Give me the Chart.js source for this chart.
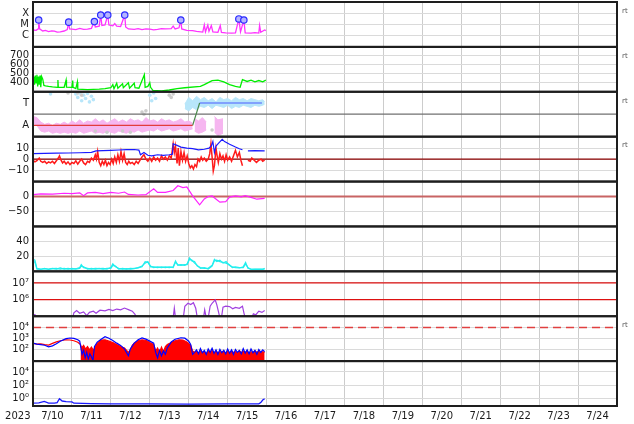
<!DOCTYPE html>
<html>
<head>
<meta charset="utf-8">
<script src="https://cdn.jsdelivr.net/npm/chart.js@4"></script>
<style>
  html, body { margin: 0; padding: 0; background: #fff; }
</style>
</head>
<body>
<canvas id="myChart" width="634" height="424"></canvas>
<script>
// x values are days since 7/10 00:00
const dayLabels = ["7/10", "7/11", "7/12", "7/13", "7/14", "7/15", "7/16", "7/17", "7/18", "7/19", "7/20", "7/21", "7/22", "7/23", "7/24"];
const yearLabel = "2023";
const refSpan = [0, 15];

// panel 1: x-ray flux + flares
const xrayT = [0, 0.08, 0.13, 0.146, 0.17, 0.25, 0.32, 0.40, 0.48, 0.55, 0.62, 0.70, 0.80,
  0.88, 0.917, 0.94, 1.00, 1.10, 1.20, 1.30, 1.40, 1.50, 1.577,
  1.60, 1.70, 1.74, 1.77, 1.85, 1.92, 1.95, 2.05, 2.10, 2.15,
  2.25, 2.356, 2.38, 2.45, 2.60, 2.70, 2.80, 2.90, 3.00, 3.10, 3.20, 3.30, 3.40, 3.55,
  3.60, 3.65, 3.75, 3.796, 3.82, 3.95, 4.10, 4.20, 4.36, 4.40, 4.43,
  4.49, 4.52, 4.58, 4.62, 4.75, 4.81, 4.84, 4.95, 5.10, 5.20,
  5.287, 5.33, 5.416, 5.45, 5.60, 5.70, 5.80, 5.82, 5.85, 5.95, 5.98];
const xrayV = [3.2e-6, 3.0e-6, 4e-6, 2.5e-5, 4e-6, 2.6e-6, 2.9e-6, 2.3e-6, 2.7e-6, 2.5e-6, 2.1e-6, 2.2e-6, 2.6e-6,
  3.5e-6, 1.6e-5, 4e-6, 3.8e-6, 3.5e-6, 4.5e-6, 3.6e-6, 3.8e-6, 4.5e-6, 1.8e-5,
  6e-6, 7e-6, 6.9e-5, 8e-6, 9e-6, 6.9e-5, 9e-6, 7.5e-6, 1.2e-5, 7e-6,
  6.5e-6, 6.9e-5, 6e-6, 4e-6, 3.7e-6, 4.2e-6, 3.5e-6, 4e-6, 3.8e-6, 3.3e-6, 3.6e-6, 4.3e-6, 4e-6, 4.2e-6,
  7e-6, 4e-6, 5e-6, 2.5e-5, 4e-6, 3e-6, 2.8e-6, 2.4e-6, 2.1e-6, 9e-6, 2.2e-6,
  9e-6, 2.5e-6, 8e-6, 2.2e-6, 2e-6, 8e-6, 2e-6, 1.8e-6, 1.7e-6, 1.8e-6,
  3.1e-5, 2.2e-6, 2.5e-5, 1.8e-6, 1.7e-6, 1.9e-6, 1.7e-6, 8e-6, 2e-6, 3.2e-6, 2.8e-6];
const flareT = [0.146, 0.917, 1.577, 1.74, 1.92, 2.356, 3.796, 5.287, 5.416];
const flareV = [2.5e-5, 1.6e-5, 1.8e-5, 6.9e-5, 6.9e-5, 6.9e-5, 2.5e-5, 3.1e-5, 2.5e-5];
const xrayTicks = [1e-6, 1e-5, 1e-4];
const xrayLabels = ["C", "M", "X"];

// panel 2: solar wind speed
const speedT = [0, 0.02, 0.04, 0.06, 0.08, 0.10, 0.12, 0.14, 0.16, 0.18,
  0.20, 0.22, 0.25, 0.28, 0.32, 0.40, 0.50, 0.63, 0.64, 0.65,
  0.80, 0.85, 0.86, 1.00, 1.02, 1.03, 1.10, 1.14, 1.15, 1.40,
  1.70, 1.85, 2.00, 2.05, 2.08, 2.15, 2.18, 2.30, 2.32, 2.45,
  2.48, 2.60, 2.62, 2.72, 2.86, 2.88, 2.95, 3.00, 3.02, 3.08,
  3.30, 3.50, 3.70, 3.90, 4.30, 4.40, 4.60, 4.75, 4.90, 5.05,
  5.20, 5.32, 5.38, 5.50, 5.60, 5.70, 5.80, 5.90, 5.98];
const speedV = [420, 470, 380, 480, 400, 490, 360, 470, 380, 480,
  350, 470, 440, 370, 365, 360, 355, 350, 430, 350,
  350, 430, 352, 350, 425, 350, 335, 410, 330, 325,
  330, 335, 345, 380, 335, 395, 340, 390, 345, 400,
  340, 395, 345, 340, 490, 350, 360, 400, 350, 315,
  310, 320, 335, 345, 360, 380, 425, 430, 410, 380,
  360, 350, 435, 415, 430, 410, 425, 410, 430];
const speedTicks = [400, 500, 600, 700];

// panel 3: sector (Toward / Away)
const sectorAwayT = [0, 4.10];
const sectorAwayV = [-1, -1];
const sectorTurnT = [4.10, 4.28];
const sectorTurnV = [-1, 1];
const sectorTowardT = [4.28, 5.88];
const sectorTowardV = [1, 1];
const sectorMid = 0;
const pinkT = [0, 0.1, 0.2, 0.3, 0.4, 0.5, 0.6, 0.7, 0.8, 0.9,
  1.0, 1.1, 1.2, 1.3, 1.4, 1.5, 1.6, 1.7, 1.8, 1.9,
  2.0, 2.1, 2.2, 2.3, 2.4, 2.5, 2.6, 2.7, 2.8, 2.9,
  3.0, 3.1, 3.2, 3.3, 3.4, 3.5, 3.6, 3.7, 3.8, 3.9,
  4.0, 4.1, 4.12, 4.15, 4.25, 4.35, 4.45, 4.5, 4.66, 4.75, 4.88];
const pinkTop = [-0.2, -0.3, -0.7, -0.9, -0.8, -1.0, -0.8, -0.9, -0.7, -0.9,
  -0.6, -0.8, -0.5, -0.8, -0.6, -0.7, -0.4, -0.7, -0.5, -0.8,
  -0.6, -0.4, -0.7, -0.5, -0.7, -0.4, -0.6, -0.5, -0.7, -0.3,
  -0.6, -0.5, -0.7, -0.4, -0.6, -0.5, -0.7, -0.6, -0.4, -0.7,
  -0.6, -0.8, null, -0.4, -0.6, -0.3, -0.7, null, -0.2, -0.5, -0.4];
const pinkBottom = [-0.8, -1.0, -1.5, -1.6, -1.5, -1.7, -1.6, -1.7, -1.6, -1.7,
  -1.6, -1.7, -1.5, -1.7, -1.6, -1.5, -1.7, -1.6, -1.7, -1.5,
  -1.6, -1.7, -1.5, -1.6, -1.7, -1.5, -1.6, -1.4, -1.6, -1.5,
  -1.4, -1.5, -1.3, -1.5, -1.4, -1.3, -1.5, -1.4, -1.3, -1.5,
  -1.4, -1.3, null, -1.5, -1.7, -1.6, -1.4, null, -1.6, -1.9, -1.7];
const lbT = [3.9, 4.0, 4.1, 4.2, 4.3, 4.4, 4.5, 4.6, 4.7, 4.8, 4.9,
  5.0, 5.1, 5.2, 5.3, 5.4, 5.5, 5.6, 5.7, 5.8, 5.9, 5.95];
const lbTop = [0.9, 1.5, 1.2, 1.6, 1.3, 1.5, 1.2, 1.4, 1.1, 1.5, 1.3,
  1.4, 1.2, 1.5, 1.3, 1.4, 1.2, 1.4, 1.3, 1.2, 1.3, 1.1];
const lbBottom = [0.5, 0.3, 0.6, 0.4, 0.7, 0.6, 0.8, 0.5, 0.8, 0.7, 0.6,
  0.8, 0.5, 0.7, 0.6, 0.8, 0.7, 0.6, 0.8, 0.7, 0.8, 0.9];
const lbDotT = [0.45, 1.1, 1.15, 1.2, 1.25, 1.3, 1.35, 1.4, 1.45, 1.5, 1.55, 3.0, 3.05, 3.1, 3.15];
const lbDotV = [1.8, 1.8, 1.5, 1.9, 1.2, 1.7, 1.4, 1.85, 1.1, 1.6, 1.3, 1.7, 1.2, 1.9, 1.4];
const greyDotT = [0.9, 1.15, 1.25, 1.6, 1.9, 2.3, 2.5, 2.8, 2.85, 2.9, 3.5, 3.55, 3.6, 4.6];
const greyDotV = [1.9, 1.9, 1.7, -1.5, -1.6, -1.5, -1.6, 0.2, 0.0, 0.3, 1.7, 1.5, 1.8, -1.4];
const sectorTicks = [-1, 1];
const sectorLabels = ["A", "T"];

// panel 4: IMF Bt / Bz
const btT = [0, 0.3, 0.6, 0.9, 1.2, 1.5, 1.62, 1.8, 2.0, 2.2,
  2.4, 2.6, 2.72, 2.76, 2.85, 2.95, 3.05, 3.2, 3.35, 3.5,
  3.58, 3.6, 3.7, 3.8, 3.95, 4.1, 4.25, 4.4, 4.52, 4.58,
  4.62, 4.66, 4.7, 4.78, 4.86, 4.92, 5.05, 5.2, 5.3, 5.38,
  5.39, 5.52, 5.7, 5.95];
const btV = [5, 5.3, 5.4, 5.6, 5.8, 6.2, 7.5, 7.8, 8, 8.3,
  8.6, 8.8, 8.2, 4, 6, 3.5, 3, 4, 3.5, 4,
  4.5, 14, 12.5, 11, 10, 9.5, 8.5, 9, 10, 12,
  16, 6, 12, 15, 18, 16, 13.5, 11, 9.5, 8.5,
  null, 7.5, 7.8, 7.5];
const bzT = [0.00, 0.05, 0.10, 0.16, 0.20, 0.25, 0.30, 0.35, 0.40, 0.45,
  0.50, 0.55, 0.60, 0.65, 0.68, 0.72, 0.76, 0.80, 0.85, 0.90,
  0.95, 1.00, 1.05, 1.10, 1.15, 1.20, 1.25, 1.30, 1.35, 1.40,
  1.45, 1.50, 1.55, 1.60, 1.63, 1.66, 1.70, 1.74, 1.78, 1.82,
  1.86, 1.90, 1.94, 1.98, 2.02, 2.06, 2.10, 2.14, 2.18, 2.22,
  2.26, 2.30, 2.34, 2.38, 2.42, 2.46, 2.50, 2.55, 2.60, 2.65,
  2.70, 2.75, 2.80, 2.85, 2.90, 2.95, 3.00, 3.05, 3.10, 3.15,
  3.20, 3.25, 3.30, 3.35, 3.40, 3.45, 3.50, 3.55, 3.60, 3.63,
  3.66, 3.70, 3.73, 3.76, 3.80, 3.84, 3.88, 3.92, 3.96, 4.00,
  4.04, 4.08, 4.12, 4.16, 4.20, 4.24, 4.28, 4.32, 4.36, 4.40,
  4.45, 4.50, 4.54, 4.57, 4.60, 4.63, 4.66, 4.70, 4.73, 4.76,
  4.80, 4.84, 4.88, 4.92, 4.96, 5.00, 5.05, 5.10, 5.15, 5.20,
  5.25, 5.30, 5.34, 5.38, 5.39, 5.52, 5.58, 5.62, 5.68, 5.74,
  5.80, 5.86, 5.90, 5.95];
const bzV = [-1, -2.5, -1.5, 1, -2, -3, -2, -4, -2.5, -3.5,
  -2, -4, -1.5, 1, 3, -1, -3.5, -2, -4.5, -2.5,
  -5, -3, -4, -1.5, -4.5, -2, 0, -3.5, -5, -2,
  -3, 1, -1, 4, 0, 7, -3, -6, -2, -5,
  -1, -6, -3, -5, 0, -4, 2, -3, 4, -2,
  7, -1, 5, -3, -5, -2, -4, -3, -5, -2,
  -4, -1, 2, 4, 0, -2, 1, -2, 2, -1,
  1, -2, 3, 0, 2, -1, 3, 1, 14, 6,
  12, -4, 10, -6, 7, -1, 6, -2, 3, -4,
  -8, -6, -9, -5, -7, 0, -2, 2, -1, 1,
  -2, 0, 5, 14, 2, -11, -6, 10, 3, -3,
  5, 0, 3, -2, 4, -1, 2, -2, 3, 8,
  2, 6, -1, -6, null, -1, -2, 1, -1, -3,
  -1, 0, -2, -1];
const bZero = 0;
const bTicks = [-10, 0, 10];
const bLabels = ["\u221210", "0", "10"];

// panel 5: Dst
const dstT = [0, 0.2, 0.5, 0.8, 1.0, 1.2, 1.3, 1.4, 1.6, 1.8,
  2.0, 2.2, 2.35, 2.45, 2.7, 2.9, 3.1, 3.2, 3.4, 3.6,
  3.72, 3.85, 3.95, 4.0, 4.1, 4.28, 4.4, 4.5, 4.6, 4.8,
  4.95, 5.05, 5.2, 5.35, 5.45, 5.6, 5.75, 5.95];
const dstV = [6, 9, 8, 11, 10, 12, 3, 12, 14, 10,
  14, 11, 15, 7, 5, 6, 26, 14, 14, 20,
  36, 30, 32, 22, 2, -28, -8, 0, 2, -19,
  -17, -2, 2, -1, 3, -3, -9, -6];
const dstZero = 0;
const dstTicks = [-50, 0];
const dstLabels = ["\u221250", "0"];

// panel 6: density
const densT = [0, 0.05, 0.1, 0.2, 0.3, 0.4, 0.5, 0.6, 0.7, 0.8,
  0.9, 1.0, 1.1, 1.2, 1.24, 1.3, 1.4, 1.5, 1.6, 1.7,
  1.8, 1.9, 2.0, 2.05, 2.12, 2.2, 2.3, 2.4, 2.5, 2.6,
  2.7, 2.8, 2.88, 2.95, 3.02, 3.1, 3.2, 3.3, 3.4, 3.5,
  3.6, 3.66, 3.72, 3.8, 3.9, 3.96, 4.02, 4.08, 4.15, 4.22,
  4.3, 4.4, 4.5, 4.6, 4.66, 4.72, 4.8, 4.88, 4.96, 5.04,
  5.12, 5.2, 5.3, 5.4, 5.46, 5.52, 5.6, 5.7, 5.8, 5.9,
  5.95];
const densA = [16, 15, 4, 3, 3.5, 3, 4, 3, 4.5, 3,
  4, 3, 3.5, 5, 9, 5, 4, 3, 4, 3.5,
  4, 3, 5, 10, 6, 4, 3, 3.5, 3, 4,
  4.5, 6, 13, 12, 7, 5, 6, 5, 6, 5,
  6, 14, 8, 9, 8, 10, 18, 14, 13, 7,
  5, 4, 4, 8, 16, 13, 15, 11, 13, 8,
  6, 5, 4.5, 6, 12, 4, 3, 2.5, 3, 2.5,
  4];
const densB = [14, 12, 3, 2.5, 4, 2.5, 3.5, 4, 3, 4,
  3, 4, 3, 4, 7, 6, 3, 4, 3, 4,
  3, 4, 4, 8, 7, 3, 4, 3, 4, 3.5,
  5, 7, 11, 13, 6, 6, 5, 6, 5, 6,
  5, 12, 9, 8, 9, 9, 16, 15, 11, 8,
  4, 5, 3, 7, 14, 15, 13, 12, 11, 9,
  5, 6, 5, 5, 10, 5, 2.5, 3, 2.5, 3,
  3];
const densTicks = [20, 40];

// panel 7: electron flux
const elecT = [0, 0.06, 0.08, 1.02, 1.05, 1.12, 1.2, 1.3, 1.38, 1.45,
  1.55, 1.62, 1.72, 1.85, 1.95, 2.05, 2.15, 2.25, 2.35, 2.45,
  2.55, 2.62, 2.66, 3.6, 3.63, 3.66, 3.86, 3.9, 3.98, 4.05,
  4.12, 4.18, 4.22, 4.38, 4.41, 4.45, 4.5, 4.55, 4.6, 4.68,
  4.72, 4.76, 4.8, 4.84, 4.88, 4.95, 5.05, 5.13, 5.2, 5.3,
  5.38, 5.42, 5.45, 5.62, 5.66, 5.72, 5.8, 5.88, 5.95];
const elecV = [1.3e5, 1.2e5, 8e4, 8e4, 1.6e5, 2.2e5, 1.5e5, 1.8e5, 1.1e5, 1.7e5,
  2.0e5, 1.5e5, 2.3e5, 2.1e5, 2.6e5, 2.2e5, 2.7e5, 2.4e5, 3.1e5, 2.5e5,
  2.0e5, 1.3e5, 8e4, 8e4, 3e5, 8e4, 8e4, 4e5, 6e5, 5e5,
  6.5e5, 3e5, 8e4, 8e4, 2.4e5, 8e4, 8e4, 4e5, 6e5, 9.5e5,
  5e5, 2e5, 8e4, 8e4, 3.5e5, 4e5, 3.8e5, 2.8e5, 3.4e5, 3e5,
  4e5, 1.5e5, 8e4, 8e4, 1.4e5, 1.2e5, 2e5, 1.7e5, 2.2e5];
const elecLevels = [1e6, 1e7];
const elecTicks = [1e6, 1e7];
const elecLabels = ["10\u2076", "10\u2077"];

// panel 8: particle flux (blue / red)
const protBlueT = [0, 0.1, 0.2, 0.3, 0.4, 0.5, 0.6, 0.7, 0.85, 0.95,
  1.05, 1.15, 1.2, 1.23, 1.26, 1.3, 1.34, 1.38, 1.42, 1.46,
  1.5, 1.54, 1.58, 1.65, 1.75, 1.85, 1.95, 2.05, 2.15, 2.25,
  2.35, 2.4, 2.45, 2.5, 2.6, 2.7, 2.8, 2.9, 3.0, 3.1,
  3.15, 3.2, 3.25, 3.3, 3.35, 3.4, 3.45, 3.55, 3.65, 3.8,
  3.9, 4.0, 4.05, 4.1,
  4.15, 4.2, 4.25, 4.3, 4.35, 4.4, 4.45, 4.5, 4.55, 4.6,
  4.65, 4.7, 4.75, 4.8, 4.85, 4.9, 4.95, 5.0, 5.05, 5.1,
  5.15, 5.2, 5.25, 5.3, 5.35, 5.4, 5.45, 5.5, 5.55, 5.6,
  5.65, 5.7, 5.75, 5.8, 5.85, 5.9, 5.95];
const protBlueV = [410, 330, 300, 260, 190, 230, 350, 600, 1000, 1150,
  1050, 800, 600, 150, 40, 90, 20, 60, 15, 45,
  25, 12, 200, 500, 900, 1500, 1100, 700, 400, 250,
  120, 60, 30, 120, 400, 800, 1150, 900, 600, 400,
  60, 20, 90, 30, 80, 40, 150, 500, 900, 1200,
  1100, 600, 300, 40,
  60, 100, 45, 130, 55, 90, 40, 120, 60, 140,
  50, 100, 40, 110, 55, 90, 45, 120, 50, 100,
  40, 110, 60, 90, 45, 130, 50, 100, 45, 120,
  55, 90, 40, 110, 60, 100, 70];
const protRedT = [0, 0.1, 0.2, 0.3, 0.4, 0.5, 0.6, 0.7, 0.85, 0.95, 1.05, 1.15, 1.22];
const protRedV = [380, 320, 340, 290, 270, 380, 520, 650, 800, 760, 650, 480, 300];
const protFillT = [1.22, 1.25, 1.3, 1.35, 1.4, 1.45, 1.5, 1.55, 1.6, 1.65,
  1.75, 1.85, 1.95, 2.05, 2.15, 2.25, 2.35, 2.45, 2.5, 2.55,
  2.6, 2.7, 2.8, 2.9, 3.0, 3.1, 3.15, 3.2, 3.25, 3.3,
  3.35, 3.4, 3.45, 3.55, 3.65, 3.75, 3.85, 3.95, 4.05, 4.1,
  4.15, 4.2, 4.25, 4.3, 4.35, 4.4, 4.45, 4.5, 4.55, 4.6,
  4.65, 4.7, 4.75, 4.8, 4.85, 4.9, 4.95, 5.0, 5.05, 5.1,
  5.15, 5.2, 5.25, 5.3, 5.35, 5.4, 5.45, 5.5, 5.55, 5.6,
  5.65, 5.7, 5.75, 5.8, 5.85, 5.9, 5.95];
const protFillV = [300, 150, 250, 120, 200, 100, 180, 90, 200, 400,
  750, 800, 600, 450, 300, 200, 150, 60, 100, 250,
  400, 650, 800, 700, 450, 300, 80, 150, 60, 180,
  70, 200, 300, 450, 650, 800, 750, 500, 250, 80,
  60, 75, 50, 85, 55, 70, 45, 80, 60, 90,
  50, 75, 55, 70, 60, 85, 45, 75, 55, 80,
  60, 70, 50, 85, 55, 75, 60, 80, 50, 70,
  55, 85, 60, 75, 50, 70, 60];
const protAlert = 1e4;
const protTicks = [1e2, 1e3, 1e4];
const protLabels = ["10\u00b2", "10\u00b3", "10\u2074"];

// panel 9: low flux
const lowT = [0, 0.15, 0.29, 0.4, 0.55, 0.62, 0.68, 0.75, 0.85, 1.0,
  1.05, 1.5, 2.0, 3.0, 4.0, 5.0, 5.8, 5.85, 5.9, 5.95];
const lowV = [0.17, 0.18, 0.3, 0.17, 0.17, 0.2, 0.8, 0.35, 0.28, 0.25,
  0.16, 0.14, 0.13, 0.13, 0.12, 0.13, 0.13, 0.2, 0.5, 0.8];
const lowTicks = [1, 1e2, 1e4];
const lowLabels = ["10\u2070", "10\u00b2", "10\u2074"];

const tickFont = { family: "DejaVu Sans", size: 10 };
const panelIds = ["yX", "yV", "yS", "yB", "yD", "yN", "yE", "yP", "yL"];
const rtPanels = ["yX", "yV", "yS", "yB", "yP"];

function series(yAxisID, t, v, color, extra) {
  return Object.assign({
    yAxisID,
    data: t.map((x, i) => ({ x, y: v[i] })),
    borderColor: color,
    backgroundColor: color,
    borderWidth: 1.2,
    pointRadius: 0,
    fill: false,
    order: 1
  }, extra || {});
}

function hline(yAxisID, value, color, extra) {
  return series(yAxisID, refSpan, refSpan.map(() => value), color, extra);
}

function noPad(s) {
  s.paddingTop = 0; s.paddingBottom = 0; s.paddingLeft = 0; s.paddingRight = 0;
}

function yAxis(type, min, max, ticks, labels, weight, gridColor) {
  return {
    type, min, max, weight,
    position: "left", stack: "panels", stackWeight: 1, bounds: "data",
    afterBuildTicks: s => { s.ticks = ticks.map(v => ({ value: v })); },
    afterFit: s => { s.width = 33; noPad(s); },
    border: { display: false },
    grid: { color: gridColor || "#dadada", drawTicks: false, lineWidth: 1 },
    ticks: { autoSkip: false, padding: 4, font: tickFont, color: "#1a1a1a",
      callback: (v, i) => labels[i] }
  };
}

const xTicks = [];
dayLabels.forEach((d, i) => { xTicks.push({ value: i }); xTicks.push({ value: i + 0.5 }); });
xTicks.push({ value: dayLabels.length });

const datasets = [
  // panel 1
  series("yX", flareT, flareV, "#2b2bff", { showLine: false, pointRadius: 3.2, pointBorderWidth: 1.2,
    pointBackgroundColor: "#b4b4ff", pointBorderColor: "#2b2bff", order: 0 }),
  series("yX", xrayT, xrayV, "#ff33ff", { borderWidth: 1.3 }),
  // panel 2
  series("yV", speedT, speedV, "#00ee00", { borderWidth: 1.3 }),
  // panel 3
  series("yS", sectorAwayT, sectorAwayV, "#e23c3c", { order: 2 }),
  series("yS", sectorTurnT, sectorTurnV, "#4a8a4a", { order: 2 }),
  series("yS", sectorTowardT, sectorTowardV, "#4a5cff", { order: 2 }),
  hline("yS", sectorMid, "#707070", { order: 3 }),
  series("yS", greyDotT, greyDotV, "#cccccc", { showLine: false, pointRadius: 1.8, pointBorderWidth: 0, order: 8 }),
  series("yS", lbDotT, lbDotV, "#b8e6fa", { showLine: false, pointRadius: 1.8, pointBorderWidth: 0, order: 8 }),
  series("yS", pinkT, pinkTop, "#f6b6f0", { fill: "+1", borderWidth: 1, order: 10 }),
  series("yS", pinkT, pinkBottom, "#f6b6f0", { borderWidth: 1, order: 10 }),
  series("yS", lbT, lbTop, "#b8e6fa", { fill: "+1", borderWidth: 1, order: 10 }),
  series("yS", lbT, lbBottom, "#b8e6fa", { borderWidth: 1, order: 10 }),
  // panel 4
  series("yB", btT, btV, "#1a1aff", { order: 1 }),
  series("yB", bzT, bzV, "#ff1a1a", { borderWidth: 1.5, order: 2 }),
  hline("yB", bZero, "#8b0000", { order: 3 }),
  // panel 5
  series("yD", dstT, dstV, "#ff22ff", { order: 1 }),
  hline("yD", dstZero, "#c86464", { borderWidth: 2.2, order: 2 }),
  // panel 6
  series("yN", densT, densA, "#22eeee", { order: 1 }),
  series("yN", densT, densB, "#22eeee", { order: 1 }),
  // panel 7
  series("yE", elecT, elecV, "#a040e0", { order: 1 }),
  hline("yE", elecLevels[0], "#dd1111", { order: 2 }),
  hline("yE", elecLevels[1], "#dd1111", { order: 2 }),
  // panel 8
  series("yP", protBlueT, protBlueV, "#0000ff", { order: 1 }),
  series("yP", protRedT, protRedV, "#ff0000", { order: 2 }),
  series("yP", protFillT, protFillV, "#ff0000", { fill: "start", order: 2 }),
  hline("yP", protAlert, "#e04040", { borderWidth: 1.6, borderDash: [8, 5], order: 3 }),
  // panel 9
  series("yL", lowT, lowV, "#1a1aff", { borderWidth: 1.3 })
];

const panelPlugin = {
  id: "panels",
  beforeDatasetDraw(chart, args) {
    const s = chart.scales[args.meta.yAxisID];
    const a = chart.chartArea;
    chart.ctx.save();
    chart.ctx.beginPath();
    chart.ctx.rect(a.left, s.top, a.right - a.left, s.bottom - s.top);
    chart.ctx.clip();
  },
  afterDatasetDraw(chart) {
    chart.ctx.restore();
  },
  afterDraw(chart) {
    const ctx = chart.ctx;
    const a = chart.chartArea;
    ctx.save();
    ctx.strokeStyle = "#1e1e1e";
    ctx.lineWidth = 2;
    panelIds.forEach(id => {
      const s = chart.scales[id];
      ctx.strokeRect(a.left, s.top, a.right - a.left, s.bottom - s.top);
    });
    ctx.fillStyle = "#1a1a1a";
    ctx.font = "10px 'DejaVu Sans'";
    ctx.textAlign = "right";
    ctx.textBaseline = "middle";
    ctx.fillText(yearLabel, 30.5, a.bottom + 10);
    ctx.font = "7px 'DejaVu Sans'";
    ctx.fillStyle = "#555";
    ctx.textAlign = "left";
    rtPanels.forEach(id => ctx.fillText("rt", a.right + 5, chart.scales[id].top + 9));
    ctx.restore();
  }
};

const ctx = document.getElementById("myChart").getContext("2d");
const chart = new Chart(ctx, {
  type: "line",
  data: { datasets },
  plugins: [panelPlugin],
  options: {
    responsive: false,
    animation: false,
    devicePixelRatio: 1,
    events: [],
    layout: { autoPadding: false, padding: { left: 0, right: 17, top: 2, bottom: 0 } },
    plugins: { legend: { display: false }, tooltip: { enabled: false } },
    scales: {
      x: {
        type: "linear", min: 0, max: dayLabels.length, position: "bottom",
        afterBuildTicks: s => { s.ticks = xTicks.map(t => ({ value: t.value })); },
        afterFit: s => { s.height = 18; noPad(s); },
        border: { display: false },
        grid: { drawTicks: false, lineWidth: 1,
          color: c => (c.tick && c.tick.value % 1 !== 0) ? "rgba(0,0,0,0)" : "#cccccc" },
        ticks: { autoSkip: false, maxRotation: 0, padding: 4, font: tickFont, color: "#1a1a1a",
          callback: v => (v % 1 === 0.5 ? dayLabels[Math.floor(v)] : "") }
      },
      yX: yAxis("logarithmic", 1e-7, 1e-3, xrayTicks, xrayLabels, 9),
      yV: yAxis("linear", 300, 800, speedTicks, speedTicks.map(String), 8),
      yS: yAxis("linear", -2, 2, sectorTicks, sectorLabels, 7, "rgba(0,0,0,0)"),
      yB: yAxis("linear", -20.5, 20.5, bTicks, bLabels, 6),
      yD: yAxis("linear", -100, 50, dstTicks, dstLabels, 5),
      yN: yAxis("linear", 0, 60, densTicks, densTicks.map(String), 4),
      yE: yAxis("logarithmic", 1e5, 5e7, elecTicks, elecLabels, 3),
      yP: yAxis("logarithmic", 10, 1e5, protTicks, protLabels, 2),
      yL: yAxis("logarithmic", 0.06, 4.7e5, lowTicks, lowLabels, 1)
    }
  }
});
</script>
</body>
</html>
